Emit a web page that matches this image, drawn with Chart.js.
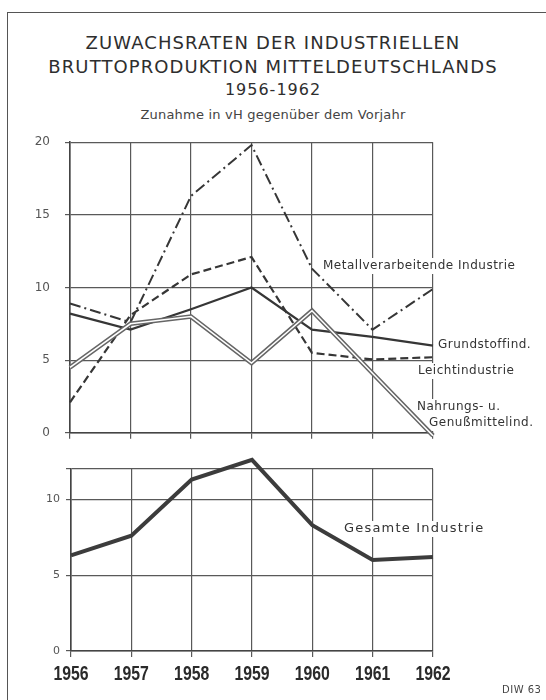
<!DOCTYPE html>
<html><head><meta charset="utf-8">
<script src="https://cdn.jsdelivr.net/npm/chart.js@4"></script>
<style>
html,body{margin:0;padding:0;background:#fff;}
body{width:546px;height:700px;position:relative;overflow:hidden;font-family:'DejaVu Sans',sans-serif;color:#2e2e2e;}
#frameTop{position:absolute;left:7px;top:12px;width:539px;height:0;border-top:1.5px solid #555;}
#frameLeft{position:absolute;left:7px;top:12px;width:0;height:688px;border-left:1.5px solid #555;}
.t{position:absolute;left:0;width:546px;text-align:center;white-space:nowrap;}
#t1{top:32px;font-size:18px;line-height:22px;letter-spacing:1.1px;}
#t2{top:56px;font-size:18px;line-height:22px;letter-spacing:1.1px;}
#t3{top:81px;font-size:16px;line-height:18px;letter-spacing:1px;}
#t4{top:107px;font-size:13px;line-height:16px;letter-spacing:0.2px;color:#444;}
#diw{position:absolute;left:502px;top:684px;font-size:10px;line-height:12px;color:#444;letter-spacing:0.5px;white-space:nowrap;}
canvas{position:absolute;left:0;}
#c1{top:120px;}
#c2{top:455px;}
</style>
</head>
<body>
<div id="frameTop"></div><div id="frameLeft"></div>
<div class="t" id="t1">ZUWACHSRATEN DER INDUSTRIELLEN</div>
<div class="t" id="t2">BRUTTOPRODUKTION MITTELDEUTSCHLANDS</div>
<div class="t" id="t3">1956-1962</div>
<div class="t" id="t4">Zunahme in vH gegenüber dem Vorjahr</div>
<canvas id="c1" width="546" height="335"></canvas>
<canvas id="c2" width="546" height="245"></canvas>
<div id="diw">DIW 63</div>
<script>
// ---- data ----
const years = ['1956', '1957', '1958', '1959', '1960', '1961', '1962'];
const metall = [8.9, 7.6, 16.3, 19.8, 11.3, 7.1, 9.9];
const grundstoff = [8.2, 7.1, 8.5, 10.0, 7.1, 6.6, 6.0];
const leicht = [2.1, 8.1, 10.9, 12.1, 5.5, 5.05, 5.2];
const nahrung = [4.5, 7.5, 8.0, 4.8, 8.4, 4.1, -0.2];
const gesamt = [6.3, 7.6, 11.3, 12.6, 8.3, 6.0, 6.2];
const topTicks = [0, 5, 10, 15, 20];
const bottomTicks = [0, 5, 10, 12];

const GRID = '#595959';
const INK = '#363636';

const labelPlugin = {
  id: 'seriesLabels',
  beforeDatasetsDraw(chart, args, opts) {
    const ctx = chart.ctx;
    ctx.save();
    for (const l of opts.items) {
      if (!l.bg) continue;
      ctx.font = l.font;
      ctx.letterSpacing = l.ls || '0px';
      const w = ctx.measureText(l.text).width;
      ctx.fillStyle = '#fff';
      ctx.fillRect(l.x - 3, l.y - opts.offsetY - 8, w + 6, 16);
    }
    ctx.restore();
  },
  afterDatasetsDraw(chart, args, opts) {
    const ctx = chart.ctx;
    ctx.save();
    ctx.textBaseline = 'middle';
    ctx.textAlign = 'left';
    ctx.fillStyle = '#333';
    for (const l of opts.items) {
      ctx.font = l.font;
      ctx.letterSpacing = l.ls || '0px';
      ctx.fillText(l.text, l.x, l.y - opts.offsetY);
    }
    // narrow bold year labels under the x axis
    if (opts.years) {
      const xs = chart.scales.x;
      const base = chart.chartArea.bottom + opts.years.dy;
      ctx.letterSpacing = '0px';
      ctx.textAlign = 'center';
      ctx.fillStyle = '#2a2a2a';
      ctx.font = "bold 20px 'Liberation Sans', 'DejaVu Sans', sans-serif";
      xs.ticks.forEach((t, i) => {
        const x = xs.getPixelForTick(i);
        ctx.save();
        ctx.translate(x, base);
        ctx.scale(0.79, 1);
        ctx.fillText(xs.getLabelForValue(t.value), 0, 0);
        ctx.restore();
      });
    }
    ctx.restore();
  }
};

Chart.defaults.font.family = "'DejaVu Sans', sans-serif";
Chart.defaults.color = '#555';

function xScale(tickLen, height) {
  return {
    type: 'category',
    offset: false,
    grid: { color: GRID, lineWidth: 1.2, tickLength: tickLen, drawTicks: true },
    border: { display: true, color: '#444', width: 1.6 },
    ticks: { display: false },
    afterFit(s) { s.height = height; }
  };
}

function yScale(min, max, tickVals, pad, size) {
  return {
    type: 'linear',
    min: min, max: max,
    afterBuildTicks(s) { s.ticks = tickVals.map(v => ({ value: v })); },
    grid: { color: GRID, lineWidth: 1.2, tickLength: 5 },
    border: { display: true, color: '#444', width: 1.6 },
    ticks: {
      padding: pad,
      color: '#555',
      font: { size: size },
      callback: v => (v % 5 === 0 ? String(v) : '')
    },
    afterFit(s) { s.width = 70; }
  };
}

const common = {
  responsive: false,
  animation: false,
  events: [],
  elements: { point: { radius: 0 }, line: { tension: 0, borderJoinStyle: 'miter', capBezierPoints: false } }
};

new Chart(document.getElementById('c1'), {
  type: 'line',
  data: {
    labels: years,
    datasets: [
      { label: 'Nahrungs- u. Genußmittelind. (innen)', data: nahrung, borderColor: '#fff', borderWidth: 1.6, clip: false },
      { label: 'Nahrungs- u. Genußmittelind.', data: nahrung, borderColor: '#666', borderWidth: 4.6, clip: false },
      { label: 'Metallverarbeitende Industrie', data: metall, borderColor: INK, borderWidth: 2, borderDash: [11, 4, 2, 4], clip: false },
      { label: 'Leichtindustrie', data: leicht, borderColor: INK, borderWidth: 2.2, borderDash: [8, 4], clip: false },
      { label: 'Grundstoffind.', data: grundstoff, borderColor: INK, borderWidth: 2.2, clip: false }
    ]
  },
  options: Object.assign({}, common, {
    layout: { padding: { top: 16, left: 0, right: 113, bottom: 7 } },
    scales: { x: xScale(6, 10), y: yScale(0, 20, topTicks, 15, 12) },
    plugins: {
      legend: { display: false }, tooltip: { enabled: false },
      seriesLabels: {
        offsetY: 120,
        items: [
          { text: 'Metallverarbeitende Industrie', x: 323, y: 266, font: "12px 'DejaVu Sans'", ls: '0.5px', bg: true },
          { text: 'Grundstoffind.', x: 438, y: 345, font: "12px 'DejaVu Sans'", ls: '0.5px', bg: true },
          { text: 'Leichtindustrie', x: 418, y: 371, font: "12px 'DejaVu Sans'", ls: '0.5px', bg: true },
          { text: 'Nahrungs- u.', x: 417, y: 407, font: "12px 'DejaVu Sans'", ls: '0.5px', bg: true },
          { text: 'Genußmittelind.', x: 429, y: 423, font: "12px 'DejaVu Sans'", ls: '0.5px', bg: true }
        ]
      }
    }
  }),
  plugins: [labelPlugin]
});

new Chart(document.getElementById('c2'), {
  type: 'line',
  data: {
    labels: years,
    datasets: [
      { label: 'Gesamte Industrie', data: gesamt, borderColor: '#3c3c3c', borderWidth: 4, clip: false }
    ]
  },
  options: Object.assign({}, common, {
    layout: { padding: { top: 14, left: 1, right: 113, bottom: 9 } },
    scales: { x: xScale(6, 40), y: yScale(0, 12, bottomTicks, 6, 11) },
    plugins: {
      legend: { display: false }, tooltip: { enabled: false },
      seriesLabels: {
        offsetY: 455,
        years: { dy: 23 },
        items: [
          { text: 'Gesamte Industrie', x: 344, y: 529, font: "13px 'DejaVu Sans'", ls: '1.2px', bg: true }
        ]
      }
    }
  }),
  plugins: [labelPlugin]
});
</script>
</body></html>
